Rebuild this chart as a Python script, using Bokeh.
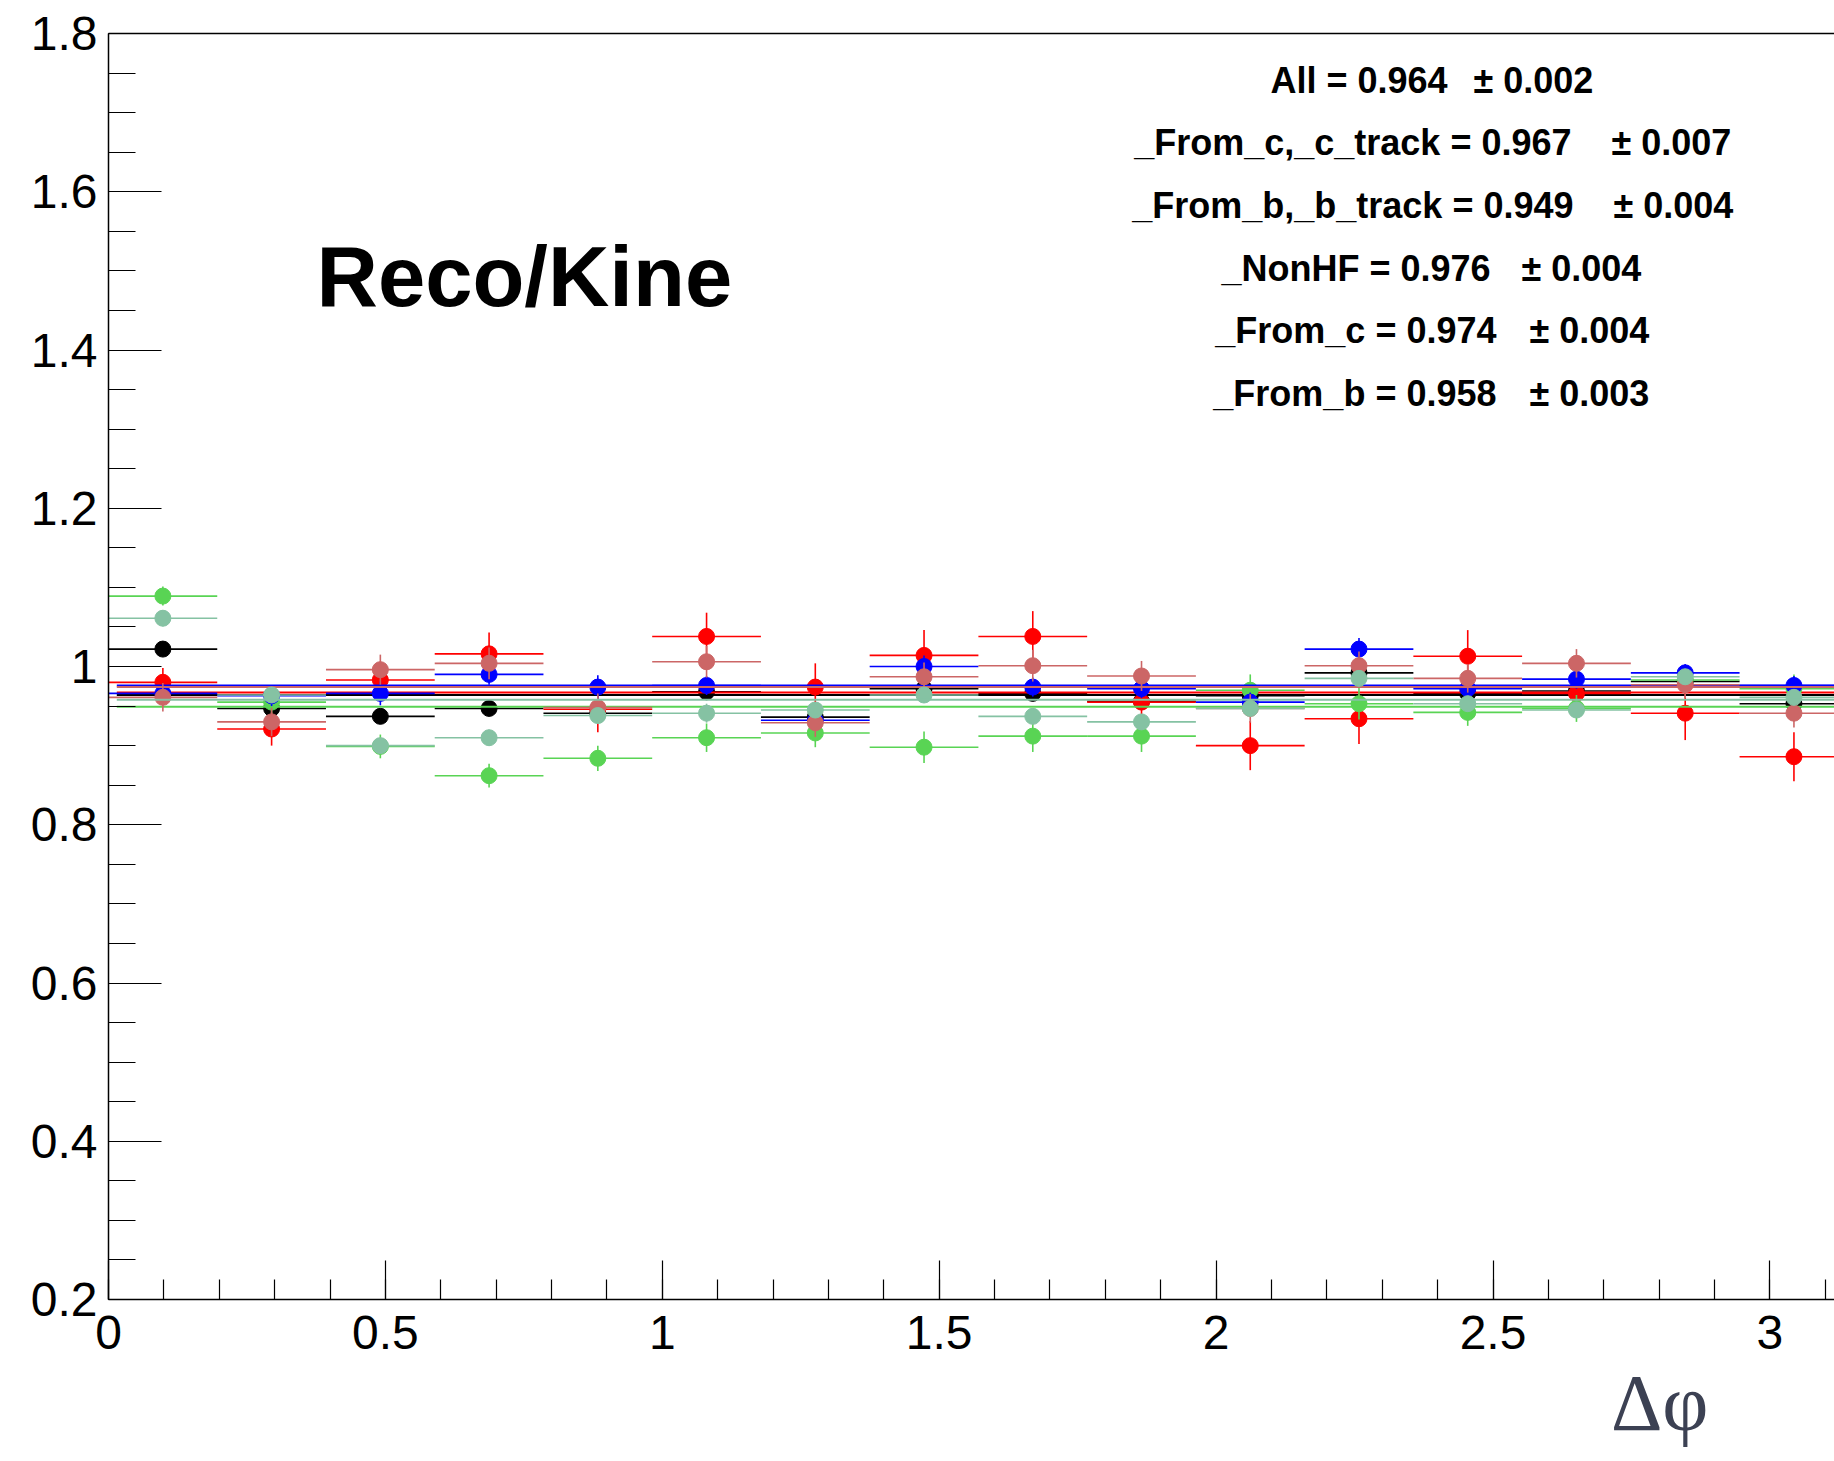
import numpy as np
from bokeh.plotting import figure
from bokeh.models import Range1d, FixedTicker, LinearAxis, Label, Title, CustomJSTickFormatter
from bokeh.embed import file_html
from bokeh.resources import INLINE

# ---------------- data ----------------
n_bins = 16
phi_max = np.pi

series_names = ["All", "_From_c,_c_track", "_From_b,_b_track", "_NonHF", "_From_c", "_From_b"]
series_colors = ["#000000", "#ff0000", "#59d454", "#0000ff", "#cc6666", "#85c2a3"]

all_vals = [1.022, 0.947, 0.937, 0.947, 0.941, 0.968, 0.936, 0.972,
            0.966, 0.956, 0.963, 0.992, 0.966, 0.969, 0.981, 0.953]
all_errs = [0.008, 0.007, 0.007, 0.007, 0.007, 0.007, 0.007, 0.007,
            0.007, 0.007, 0.007, 0.007, 0.007, 0.007, 0.007, 0.007]

ctrack_vals = [0.980, 0.921, 0.983, 1.016, 0.946, 1.038, 0.974, 1.014,
               1.038, 0.955, 0.900, 0.934, 1.013, 0.966, 0.941, 0.886]
ctrack_errs = [0.018, 0.021, 0.016, 0.027, 0.029, 0.030, 0.030, 0.032,
               0.032, 0.028, 0.031, 0.032, 0.033, 0.028, 0.034, 0.031]

btrack_vals = [1.089, 0.955, 0.899, 0.862, 0.884, 0.910, 0.916, 0.898,
               0.912, 0.912, 0.970, 0.953, 0.942, 0.947, 0.983, 0.972]
btrack_errs = [0.012, 0.015, 0.015, 0.015, 0.016, 0.018, 0.018, 0.020,
               0.020, 0.020, 0.020, 0.020, 0.017, 0.017, 0.015, 0.018]

nonhf_vals = [0.966, 0.963, 0.966, 0.990, 0.974, 0.976, 0.932, 1.000,
              0.974, 0.972, 0.955, 1.022, 0.972, 0.984, 0.992, 0.976]
nonhf_errs = [0.012, 0.013, 0.015, 0.013, 0.015, 0.012, 0.012, 0.014,
              0.012, 0.012, 0.012, 0.014, 0.012, 0.012, 0.011, 0.012]

fromc_vals = [0.961, 0.930, 0.996, 1.004, 0.948, 1.006, 0.929, 0.987,
              1.001, 0.988, 0.947, 1.001, 0.985, 1.004, 0.977, 0.941]
fromc_errs = [0.018, 0.018, 0.019, 0.020, 0.018, 0.020, 0.018, 0.018,
              0.020, 0.019, 0.018, 0.018, 0.018, 0.018, 0.017, 0.018]

fromb_vals = [1.061, 0.964, 0.900, 0.910, 0.938, 0.941, 0.945, 0.964,
              0.937, 0.930, 0.947, 0.985, 0.953, 0.945, 0.987, 0.961]
fromb_errs = [0.010, 0.010, 0.010, 0.010, 0.010, 0.012, 0.010, 0.010,
              0.010, 0.010, 0.010, 0.010, 0.010, 0.010, 0.010, 0.010]

fit_vals = [0.964, 0.967, 0.949, 0.976, 0.974, 0.958]
fit_errs = [0.002, 0.007, 0.004, 0.004, 0.004, 0.003]
fit_range = (0.015, np.pi)

x_tick_vals = [0, 0.5, 1, 1.5, 2, 2.5, 3]
y_tick_vals = [0.2, 0.4, 0.6, 0.8, 1.0, 1.2, 1.4, 1.6, 1.8]
x_title = "\u0394\u03c6"

all_series_vals = [all_vals, ctrack_vals, btrack_vals, nonhf_vals, fromc_vals, fromb_vals]
all_series_errs = [all_errs, ctrack_errs, btrack_errs, nonhf_errs, fromc_errs, fromb_errs]

# ---------------- layout ----------------
W, H = 1834, 1461
LEFT, TOP, BOTTOM = 108, 33, 162
px_per_unit_x = 553.8
x_end = (W - LEFT) / px_per_unit_x

p = figure(width=W, height=H, x_range=Range1d(0, x_end), y_range=Range1d(0.2, 1.8),
           output_backend="svg", toolbar_location=None,
           min_border_left=LEFT, min_border_right=0, min_border_top=TOP, min_border_bottom=BOTTOM)
p.xgrid.visible = False
p.ygrid.visible = False
p.outline_line_color = None
p.background_fill_color = "white"
p.border_fill_color = "white"

fmt = CustomJSTickFormatter(code="return Number(tick.toFixed(2)).toString();")
FONT = "Liberation Sans"

xa = p.xaxis[0]
xa.ticker = FixedTicker(ticks=x_tick_vals, minor_ticks=list(np.round(np.arange(0, 3.15, 0.1), 2)))
xa.formatter = fmt
xa.major_tick_in = 39
xa.major_tick_out = 0
xa.minor_tick_in = 20
xa.minor_tick_out = 0
xa.major_label_standoff = 16
ya = p.yaxis[0]
ya.ticker = FixedTicker(ticks=y_tick_vals, minor_ticks=list(np.round(np.arange(0.2, 1.81, 0.05), 3)))
ya.formatter = fmt
ya.major_tick_in = 53
ya.major_tick_out = 0
ya.minor_tick_in = 27
ya.minor_tick_out = 0
ya.major_label_standoff = 11
for ax in (xa, ya):
    ax.axis_line_color = "black"
    ax.axis_line_width = 1.5
    ax.major_tick_line_color = "black"
    ax.major_tick_line_width = 1.2
    ax.minor_tick_line_color = "black"
    ax.minor_tick_line_width = 1.2
    ax.major_label_text_font = FONT
    ax.major_label_text_font_size = "48px"
    ax.major_label_text_color = "black"

top_axis = LinearAxis(ticker=FixedTicker(ticks=[]), axis_line_color="black", axis_line_width=1.5,
                      major_tick_in=0, major_tick_out=0, minor_tick_in=0, minor_tick_out=0,
                      major_label_text_font_size="0px", major_label_standoff=0)
p.add_layout(top_axis, "above")

# x-axis title (outside the frame, so as a below-panel title)
p.add_layout(Title(text=x_title, align="right", offset=126, standoff=15, vertical_align="top",
                   text_font="Liberation Serif", text_font_style="normal", text_font_size="80px",
                   text_color="#3c4153"), "below")

# ---------------- data marks ----------------
edges = np.linspace(0, phi_max, n_bins + 1)
centers = 0.5 * (edges[:-1] + edges[1:])
lo = edges[:-1]
hi = edges[1:]

for vals, errs, col, fv in zip(all_series_vals, all_series_errs, series_colors, fit_vals):
    v = np.array(vals)
    e = np.array(errs)
    p.segment(x0=lo, x1=hi, y0=v, y1=v, line_color=col, line_width=1.6)
    p.segment(x0=centers, x1=centers, y0=v - e, y1=v + e, line_color=col, line_width=1.6)
    p.scatter(x=centers, y=v, marker="circle", size=16, fill_color=col, line_color=col)
    p.segment(x0=[fit_range[0]], x1=[fit_range[1]], y0=[fv], y1=[fv], line_color=col, line_width=2)

# ---------------- texts ----------------
BASE_SHIFT = 0.37  # empirical offset of the rendered baseline, in em


def fx(cx):
    return cx - LEFT


def fy(cy, size):
    return (H - BOTTOM) - (cy - BASE_SHIFT * size)


stat_name_right = [1447, 1571, 1573, 1490, 1496, 1496]
stat_pm_left = [1473, 1611, 1613, 1521, 1529, 1529]
stat_baselines = [93, 155, 218, 281, 343, 406]
for name, fv, fe, xr, xl, yb in zip(series_names, fit_vals, fit_errs, stat_name_right, stat_pm_left, stat_baselines):
    p.add_layout(Label(x=fx(xr), y=fy(yb, 36), x_units="screen", y_units="screen",
                       text=f"{name} = {fv:.3f}", text_align="right", text_baseline="alphabetic",
                       text_font=FONT, text_font_style="bold", text_font_size="36px", text_color="black"))
    p.add_layout(Label(x=fx(xl), y=fy(yb, 36), x_units="screen", y_units="screen",
                       text=f"\u00b1 {fe:.3f}", text_align="left", text_baseline="alphabetic",
                       text_font=FONT, text_font_style="bold", text_font_size="36px", text_color="black"))

p.add_layout(Label(x=fx(316), y=fy(307, 85), x_units="screen", y_units="screen",
                   text="Reco/Kine", text_align="left", text_baseline="alphabetic",
                   text_font=FONT, text_font_style="bold", text_font_size="85px", text_color="black"))

open("out.html", "w").write(file_html(p, INLINE))
